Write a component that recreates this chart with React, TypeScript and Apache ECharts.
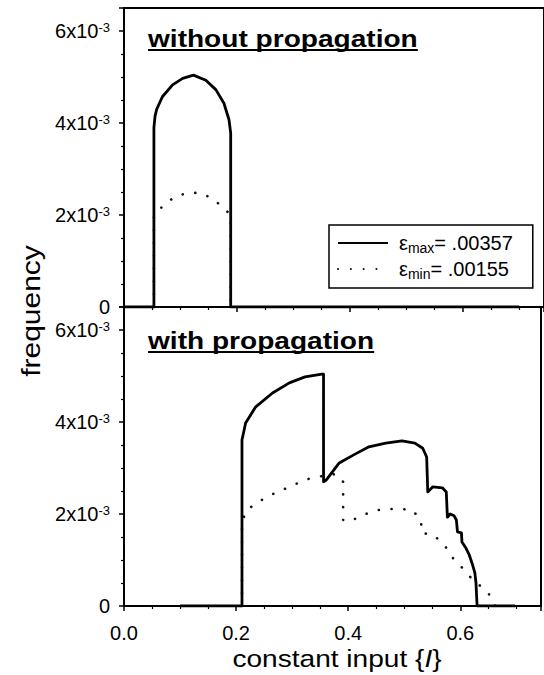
import React, { useEffect, useRef } from "react";
import * as echarts from "echarts";

// Frequency values are in units of 10^-3
const X_TICKS = [0, 0.2, 0.4, 0.6];
const X_TICK_LABELS = ["0.0", "0.2", "0.4", "0.6"];
const Y_TICKS = [0, 2, 4, 6];
const Y_TICK_LABELS = ["0", "2x10", "4x10", "6x10"];
const Y_EXPONENT = "-3";

const LEGEND_NAMES = ["εmax= .00357", "εmin= .00155"];
const LEGEND_SUBS = ["max", "min"];
const LEGEND_VALUES = [".00357", ".00155"];

const PANEL_TITLES = ["without propagation", "with propagation"];
const Y_TITLE = "frequency";
const X_TITLE_MAIN = "constant input {";
const X_TITLE_VAR = "I";
const X_TITLE_END = "}";

// without propagation, eps_max
const withoutMax: [number, number][] = [
  [0.0, 0], [0.053, 0], [0.053, 3.9], [0.055, 4.15], [0.058, 4.3], [0.068, 4.57],
  [0.086, 4.83], [0.104, 4.97], [0.123, 5.04], [0.145, 4.93], [0.163, 4.72],
  [0.177, 4.43], [0.186, 4.07], [0.189, 3.78], [0.189, 0], [0.7, 0],
];
// without propagation, eps_min
const withoutMin: [number, number][] = [
  [0.053, 0], [0.053, 2.0], [0.067, 2.17], [0.089, 2.39], [0.112, 2.48],
  [0.135, 2.48], [0.158, 2.35], [0.18, 2.11], [0.189, 2.0], [0.189, 0],
];
// with propagation, eps_max
const withMax: [number, number][] = [
  [0.1, 0], [0.2105, 0], [0.2105, 3.61], [0.217, 3.98], [0.235, 4.33], [0.265, 4.63],
  [0.295, 4.85], [0.323, 4.98], [0.353, 5.04], [0.356, 5.04], [0.356, 2.7],
  [0.361, 2.74], [0.384, 3.11], [0.409, 3.28], [0.437, 3.46], [0.467, 3.54],
  [0.496, 3.59], [0.519, 3.54], [0.533, 3.43], [0.54, 3.24], [0.542, 2.48],
  [0.551, 2.59], [0.568, 2.57], [0.575, 2.48], [0.577, 1.93], [0.582, 2.0],
  [0.589, 1.96], [0.593, 1.87], [0.595, 1.61], [0.602, 1.59], [0.603, 1.39],
  [0.61, 1.26], [0.616, 1.11], [0.621, 0.93], [0.626, 0.72], [0.628, 0.5],
  [0.63, 0], [0.698, 0],
];
// with propagation, eps_min
const withMin: [number, number][] = [
  [0.2105, 0], [0.2105, 1.83], [0.219, 2.09], [0.242, 2.28], [0.265, 2.43],
  [0.31, 2.67], [0.333, 2.78], [0.356, 2.83], [0.379, 2.87], [0.391, 2.7],
  [0.391, 1.87], [0.402, 1.83], [0.423, 1.96], [0.446, 2.07], [0.468, 2.11],
  [0.491, 2.11], [0.514, 2.09], [0.53, 1.87], [0.531, 1.59], [0.553, 1.54],
  [0.567, 1.37], [0.577, 1.24], [0.589, 1.0], [0.602, 0.85], [0.616, 0.65],
  [0.63, 0.5], [0.651, 0.26], [0.662, 0],
];

const FONT = "'Liberation Sans', Arial, Helvetica, sans-serif";

function measure(text: string, font: string): number {
  const c = document.createElement("canvas").getContext("2d");
  if (!c) return text.length * 12;
  c.font = font;
  return c.measureText(text).width;
}

export default function App() {
  const ref = useRef<HTMLDivElement>(null);
  useEffect(() => {
    if (!ref.current) return;
    const chart = echarts.init(ref.current, undefined, { renderer: "svg" });

    const yLabel = (v: number) => {
      const i = Y_TICKS.findIndex((t) => Math.abs(t - v) < 1e-9);
      if (i < 0) return "";
      if (Y_TICKS[i] === 0) return Y_TICK_LABELS[i];
      return `{a|${Y_TICK_LABELS[i]}}{s|${Y_EXPONENT}}`;
    };
    const xLabel = (v: number) => {
      const i = X_TICKS.findIndex((t) => Math.abs(t - v) < 1e-9);
      return i >= 0 ? X_TICK_LABELS[i] : "";
    };

    const axisLine = { show: true, lineStyle: { color: "#000", width: 2 } };
    const axisTick = { show: true, length: 5, lineStyle: { color: "#000", width: 1.5 } };
    const minorTick = { show: true, splitNumber: 4, length: 3, lineStyle: { color: "#000", width: 1.2 } };

    const xMax = 0.744;
    const xAxisBase = {
      type: "value" as const,
      min: 0,
      max: xMax,
      interval: 0.2,
      axisLine,
      axisTick,
      minorTick,
      splitLine: { show: false },
    };
    const yAxisBase = {
      type: "value" as const,
      min: 0,
      max: 6.5,
      interval: 2,
      axisLine,
      axisTick,
      minorTick,
      splitLine: { show: false },
      axisLabel: {
        formatter: yLabel,
        margin: 14,
        color: "#000",
        fontSize: 20,
        fontFamily: FONT,
        rich: {
          a: { fontSize: 20, fontFamily: FONT, color: "#000", lineHeight: 20 },
          s: { fontSize: 13, fontFamily: FONT, color: "#000", lineHeight: 13, verticalAlign: "top" },
        },
      },
    };

    const solidStyle = { color: "#000", width: 2.8, cap: "butt", join: "round" };
    const dotStyle = { color: "#111", width: 2.6, type: [0.1, 12.7], cap: "round" };

    const titleFont = `bold 24px ${FONT}`;
    const tScale = 1.17;
    const w0 = measure(PANEL_TITLES[0], titleFont) * tScale;
    const w1 = measure(PANEL_TITLES[1], titleFont) * tScale;

    const option: any = {
      animation: false,
      backgroundColor: "#fff",
      color: ["#000", "#111"],
      grid: [
        { left: 124, top: 8, width: 424, height: 299, show: true, borderColor: "#000", borderWidth: 2, backgroundColor: "transparent" },
        { left: 124, top: 307, width: 424, height: 299, show: true, borderColor: "#000", borderWidth: 2, backgroundColor: "transparent" },
      ],
      xAxis: [
        { ...xAxisBase, gridIndex: 0, axisLabel: { show: false } },
        {
          ...xAxisBase,
          gridIndex: 1,
          axisLabel: { formatter: xLabel, margin: 17, color: "#000", fontSize: 20, fontFamily: FONT },
        },
      ],
      yAxis: [
        { ...yAxisBase, gridIndex: 0 },
        { ...yAxisBase, gridIndex: 1 },
      ],
      legend: {
        data: LEGEND_NAMES,
        orient: "vertical",
        left: 329,
        top: 225,
        itemWidth: 50,
        itemHeight: 14,
        itemGap: 4,
        padding: [8, 20, 7, 8],
        borderColor: "#000",
        borderWidth: 1.5,
        backgroundColor: "#fff",
        selectedMode: false,
        itemStyle: { color: "rgba(0,0,0,0)", borderWidth: 0, opacity: 0 },
        formatter: (name: string) => {
          const i = LEGEND_NAMES.indexOf(name);
          return `{e|ε}{s|${LEGEND_SUBS[i]}}{v|= ${LEGEND_VALUES[i]}}`;
        },
        textStyle: {
          color: "#000",
          fontFamily: FONT,
          rich: {
            e: { fontSize: 20, fontFamily: FONT, color: "#000", lineHeight: 24, padding: [0, 0, 0, 6] },
            s: { fontSize: 14, fontFamily: FONT, color: "#000", lineHeight: 8, verticalAlign: "bottom" },
            v: { fontSize: 20, fontFamily: FONT, color: "#000", lineHeight: 24 },
          },
        },
      },
      graphic: [
        {
          type: "text", x: 148, y: 39, scaleX: tScale,
          style: { text: PANEL_TITLES[0], fontSize: 24, fontWeight: "bold", fontFamily: FONT, fill: "#000", align: "left", verticalAlign: "middle" },
        },
        { type: "line", shape: { x1: 148, y1: 50, x2: 148 + w0, y2: 50 }, style: { stroke: "#000", lineWidth: 2 } },
        {
          type: "text", x: 148, y: 340.5, scaleX: tScale,
          style: { text: PANEL_TITLES[1], fontSize: 24, fontWeight: "bold", fontFamily: FONT, fill: "#000", align: "left", verticalAlign: "middle" },
        },
        { type: "line", shape: { x1: 148, y1: 352, x2: 148 + w1, y2: 352 }, style: { stroke: "#000", lineWidth: 2 } },
        {
          type: "text", x: 31, y: 311, rotation: Math.PI / 2, scaleX: 1.2,
          style: { text: Y_TITLE, fontSize: 25, fontFamily: FONT, fill: "#000", align: "center", verticalAlign: "middle" },
        },
        {
          type: "text", x: 337, y: 659, scaleX: tScale,
          style: {
            text: `{n|${X_TITLE_MAIN}}{i|${X_TITLE_VAR}}${X_TITLE_END}`,
            fill: "#000",
            fontSize: 24,
            fontFamily: FONT,
            align: "center",
            verticalAlign: "middle",
            rich: {
              n: { fontSize: 24, fontFamily: FONT, fill: "#000" },
              i: { fontSize: 24, fontFamily: FONT, fontStyle: "italic", fill: "#000" },
            },
          },
        },
      ],
      series: [
        { name: LEGEND_NAMES[0], type: "line", xAxisIndex: 0, yAxisIndex: 0, data: withoutMax, symbol: "none", showSymbol: false, itemStyle: { color: "#000" }, lineStyle: solidStyle, z: 4, silent: true },
        { name: LEGEND_NAMES[1], type: "line", xAxisIndex: 0, yAxisIndex: 0, data: withoutMin, symbol: "none", showSymbol: false, itemStyle: { color: "#111" }, lineStyle: dotStyle, z: 3, silent: true },
        { name: LEGEND_NAMES[0], type: "line", xAxisIndex: 1, yAxisIndex: 1, data: withMax, symbol: "none", showSymbol: false, itemStyle: { color: "#000" }, lineStyle: solidStyle, z: 4, silent: true },
        { name: LEGEND_NAMES[1], type: "line", xAxisIndex: 1, yAxisIndex: 1, data: withMin, symbol: "none", showSymbol: false, itemStyle: { color: "#111" }, lineStyle: dotStyle, z: 3, silent: true },
      ],
    };
    chart.setOption(option);
    return () => chart.dispose();
  }, []);
  return (
    <div
      ref={ref}
      style={{ position: "absolute", left: 0, top: 0, width: 544, height: 675, background: "#fff" }}
    />
  );
}
